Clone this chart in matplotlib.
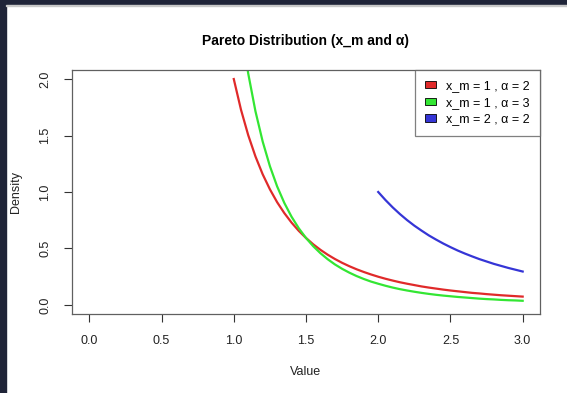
import matplotlib
matplotlib.use("Agg")
import matplotlib.pyplot as plt
from matplotlib.patches import Rectangle, Patch

plt.rcParams['font.family'] = ['Liberation Sans', 'DejaVu Sans']

# Data
x_values = [1.00, 1.05, 1.10, 1.15, 1.20, 1.25, 1.30, 1.35, 1.40, 1.45,
            1.50, 1.55, 1.60, 1.65, 1.70, 1.75, 1.80, 1.85, 1.90, 1.95,
            2.00, 2.05, 2.10, 2.15, 2.20, 2.25, 2.30, 2.35, 2.40, 2.45,
            2.50, 2.55, 2.60, 2.65, 2.70, 2.75, 2.80, 2.85, 2.90, 2.95, 3.00]
density_xm1_a2 = [2.000, 1.728, 1.503, 1.315, 1.157, 1.024, 0.910, 0.813, 0.729, 0.656,
                  0.593, 0.537, 0.488, 0.445, 0.407, 0.373, 0.343, 0.316, 0.292, 0.270,
                  0.250, 0.232, 0.216, 0.201, 0.188, 0.176, 0.164, 0.154, 0.145, 0.136,
                  0.128, 0.121, 0.114, 0.107, 0.102, 0.096, 0.091, 0.086, 0.082, 0.078, 0.074]
density_xm1_a3 = [3.000, 2.468, 2.049, 1.715, 1.447, 1.229, 1.050, 0.903, 0.781, 0.679,
                  0.593, 0.520, 0.458, 0.405, 0.359, 0.320, 0.286, 0.256, 0.230, 0.207,
                  0.188, 0.170, 0.154, 0.140, 0.128, 0.117, 0.107, 0.098, 0.090, 0.083,
                  0.077, 0.071, 0.066, 0.061, 0.056, 0.052, 0.049, 0.045, 0.042, 0.040, 0.037]
x_values_blue = [2.00, 2.05, 2.10, 2.15, 2.20, 2.25, 2.30, 2.35, 2.40, 2.45,
                 2.50, 2.55, 2.60, 2.65, 2.70, 2.75, 2.80, 2.85, 2.90, 2.95, 3.00]
density_xm2_a2 = [1.000, 0.929, 0.864, 0.805, 0.751, 0.702, 0.658, 0.616, 0.579, 0.544,
                  0.512, 0.482, 0.455, 0.430, 0.406, 0.385, 0.364, 0.346, 0.328, 0.312, 0.296]
legend_labels = ["x_m = 1 , α = 2", "x_m = 1 , α = 3", "x_m = 2 , α = 2"]
x_ticks = [0.0, 0.5, 1.0, 1.5, 2.0, 2.5, 3.0]
y_ticks = [0.0, 0.5, 1.0, 1.5, 2.0]

colors = ['#e02a2a', '#33e633', '#3535d6']

W, H = 567, 393
fig = plt.figure(figsize=(W / 100, H / 100), dpi=100)
fig.patch.set_facecolor('white')

# dark screenshot border
fig.add_artist(Rectangle((0, 0), 6 / W, 1, transform=fig.transFigure, color='#1f2438', zorder=10))
fig.add_artist(Rectangle((0, 1 - 5 / H), 1, 5 / H, transform=fig.transFigure, color='#1f2438', zorder=10))
fig.add_artist(Rectangle((6 / W, 1 - 6 / H), 1, 1 / H, transform=fig.transFigure, color='#c8c8c8', zorder=10))

left, right, top, bottom = 72, 540, 70, 314
ax = fig.add_axes([left / W, (H - bottom) / H, (right - left) / W, (bottom - top) / H])

ax.plot(x_values, density_xm1_a2, color=colors[0], lw=1.6)
ax.plot(x_values, density_xm1_a3, color=colors[1], lw=1.6)
ax.plot(x_values_blue, density_xm2_a2, color=colors[2], lw=1.6)

ax.set_xlim(-0.12, 3.12)
ax.set_ylim(-0.08, 2.08)
ax.set_xticks(x_ticks)
ax.set_xticklabels([f"{v:.1f}" for v in x_ticks])
ax.set_yticks(y_ticks)
ax.set_yticklabels([f"{v:.1f}" for v in y_ticks], rotation=90, va='center')

for s in ax.spines.values():
    s.set_color('#606060')
    s.set_linewidth(0.9)
ax.tick_params(axis='both', direction='out', length=6, width=0.8, color='#333333',
               labelsize=9, labelcolor='#222222')
ax.tick_params(axis='x', pad=9)
ax.tick_params(axis='y', pad=9)

ax.set_xlabel("Value", fontsize=9, color='#222222', labelpad=14)
ax.set_ylabel("Density", fontsize=9, color='#222222', labelpad=12)
ax.set_title("Pareto Distribution (x_m and α)", fontsize=10, fontweight='bold', pad=18)

handles = [Patch(facecolor=c, edgecolor='black', linewidth=0.6) for c in colors]
leg = ax.legend(handles, legend_labels, loc='upper right', fontsize=9, frameon=True,
                fancybox=False, borderaxespad=0, handlelength=0.85, handleheight=0.55,
                handletextpad=0.85, borderpad=0.8, labelspacing=0.38)
leg.get_frame().set_edgecolor('#606060')
leg.get_frame().set_linewidth(0.9)

fig.savefig("out.png", dpi=100)
